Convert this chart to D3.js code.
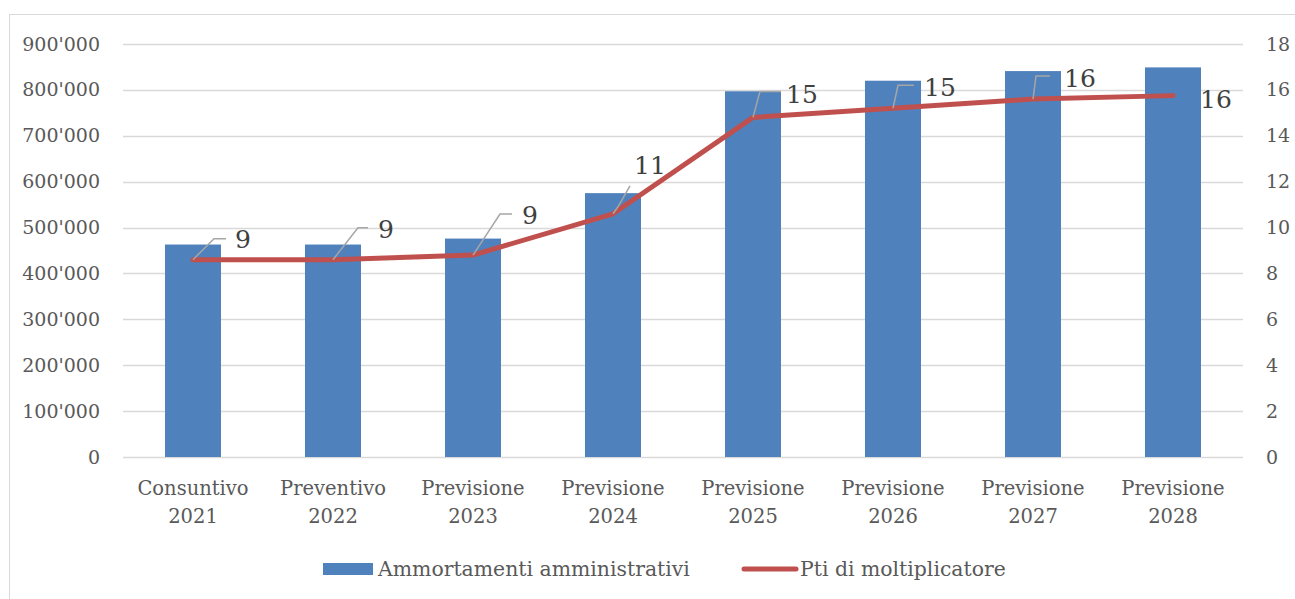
<!DOCTYPE html>
<html>
<head>
<meta charset="utf-8">
<script src="https://cdn.jsdelivr.net/npm/d3@7"></script>
<style>
  html, body { margin: 0; padding: 0; background: #fff; }
  svg text { font-family: "DejaVu Serif", serif; fill: #595959; }
</style>
</head>
<body>
<div id="visDiv"></div>
<script>
// data
var categories = [
  ["Consuntivo", "2021"], ["Preventivo", "2022"], ["Previsione", "2023"], ["Previsione", "2024"],
  ["Previsione", "2025"], ["Previsione", "2026"], ["Previsione", "2027"], ["Previsione", "2028"]
];
var ammortamenti = [463000, 463000, 476000, 575000, 797000, 820000, 841000, 849000];
var ptiMoltiplicatore = [8.6, 8.6, 8.8, 10.6, 14.8, 15.2, 15.6, 15.75];
var leftTicks = [0, 100000, 200000, 300000, 400000, 500000, 600000, 700000, 800000, 900000];
var rightTicks = [0, 2, 4, 6, 8, 10, 12, 14, 16, 18];
var seriesNames = ["Ammortamenti amministrativi", "Pti di moltiplicatore"];

// label placement (offsets from the point): text dx, dy, leader elbow, leader end
var labelPos = [
  {dx: 42, dy: -12, lead: [[21, -21], [33, -21]]},
  {dx: 45, dy: -22, lead: [[25, -32], [35, -32]]},
  {dx: 49, dy: -31, lead: [[27, -41], [39, -41]]},
  {dx: 21, dy: -40, lead: [[5, -7], [17, -28]]},
  {dx: 33, dy: -14, lead: [[7, -26], [28, -26]]},
  {dx: 31, dy: -12, lead: [[5, -23], [21, -23]]},
  {dx: 31, dy: -12, lead: [[3, -23], [17, -23]]},
  {dx: 27, dy: 12, lead: null}
];

var W = 1295, H = 599;
var plot = {left: 123, right: 1243, top: 44, bottom: 457};

var svg = d3.select('#visDiv').append('svg')
  .attr('width', W).attr('height', H);

svg.append('rect')
  .attr('x', 9.5).attr('y', 14.5)
  .attr('width', W).attr('height', H)
  .attr('fill', '#fff').attr('stroke', '#d9d9d9');

var x = d3.scaleBand()
  .domain(d3.range(categories.length))
  .range([plot.left, plot.right])
  .paddingInner(0.6).paddingOuter(0.3);

var yL = d3.scaleLinear().domain([0, 900000]).range([plot.bottom, plot.top]);
var yR = d3.scaleLinear().domain([0, 18]).range([plot.bottom, plot.top]);

var fmt = function (v) { return d3.format(",")(v).replace(/,/g, "'"); };

// gridlines
svg.append('g').selectAll('line').data(leftTicks).enter().append('line')
  .attr('x1', plot.left).attr('x2', plot.right)
  .attr('y1', function (d) { return Math.round(yL(d)) + 0.5; })
  .attr('y2', function (d) { return Math.round(yL(d)) + 0.5; })
  .attr('stroke', '#d9d9d9').attr('stroke-width', 1.5);

// left axis
var gl = svg.append('g')
  .attr('transform', 'translate(100,0)')
  .call(d3.axisLeft(yL).tickValues(leftTicks).tickSize(0).tickPadding(0).tickFormat(fmt));
gl.attr('font-family', null);
gl.select('.domain').remove();
gl.selectAll('text').attr('font-size', 19).attr('fill', '#595959');

// right axis
var gr = svg.append('g')
  .attr('transform', 'translate(1266,0)')
  .call(d3.axisRight(yR).tickValues(rightTicks).tickSize(0).tickPadding(0));
gr.attr('font-family', null);
gr.select('.domain').remove();
gr.selectAll('text').attr('font-size', 19).attr('fill', '#595959');

// bars
svg.append('g').selectAll('rect').data(ammortamenti).enter().append('rect')
  .attr('x', function (d, i) { return x(i); })
  .attr('y', function (d) { return yL(d); })
  .attr('width', x.bandwidth())
  .attr('height', function (d) { return yL(0) - yL(d); })
  .attr('fill', '#4f81bd');

// category labels
var cat = svg.append('g').selectAll('text').data(categories).enter().append('text')
  .attr('text-anchor', 'middle')
  .attr('font-size', 19.5);
cat.append('tspan')
  .attr('x', function (d, i) { return x(i) + x.bandwidth() / 2; })
  .attr('y', 495)
  .text(function (d) { return d[0]; });
cat.append('tspan')
  .attr('x', function (d, i) { return x(i) + x.bandwidth() / 2; })
  .attr('y', 523)
  .text(function (d) { return d[1]; });

// line
var cx = function (i) { return x(i) + x.bandwidth() / 2; };
var line = d3.line()
  .x(function (d, i) { return cx(i); })
  .y(function (d) { return yR(d); });

svg.append('path')
  .datum(ptiMoltiplicatore)
  .attr('fill', 'none')
  .attr('stroke', '#c0504d')
  .attr('stroke-width', 5)
  .attr('stroke-linejoin', 'round')
  .attr('stroke-linecap', 'round')
  .attr('d', line);

// leader lines + data labels
var lbl = svg.append('g');
ptiMoltiplicatore.forEach(function (v, i) {
  var px = cx(i), py = yR(v), p = labelPos[i];
  if (p.lead) {
    lbl.append('polyline')
      .attr('points', [[px, py], [px + p.lead[0][0], py + p.lead[0][1]], [px + p.lead[1][0], py + p.lead[1][1]]]
        .map(function (q) { return q.join(','); }).join(' '))
      .attr('fill', 'none').attr('stroke', '#a6a6a6').attr('stroke-width', 1.5);
  }
  lbl.append('text')
    .attr('x', px + p.dx).attr('y', py + p.dy)
    .attr('font-size', 25)
    .style('fill', '#404040')
    .text(d3.format('.0f')(v));
});

// legend
var leg = svg.append('g');
leg.append('rect')
  .attr('x', 323).attr('y', 563).attr('width', 50).attr('height', 12)
  .attr('fill', '#4f81bd');
leg.append('text')
  .attr('x', 378).attr('y', 576).attr('font-size', 20.4)
  .text(seriesNames[0]);
leg.append('line')
  .attr('x1', 744).attr('x2', 796).attr('y1', 569).attr('y2', 569)
  .attr('stroke', '#c0504d').attr('stroke-width', 5).attr('stroke-linecap', 'round');
leg.append('text')
  .attr('x', 800).attr('y', 576).attr('font-size', 20.4)
  .text(seriesNames[1]);
</script>
</body>
</html>
